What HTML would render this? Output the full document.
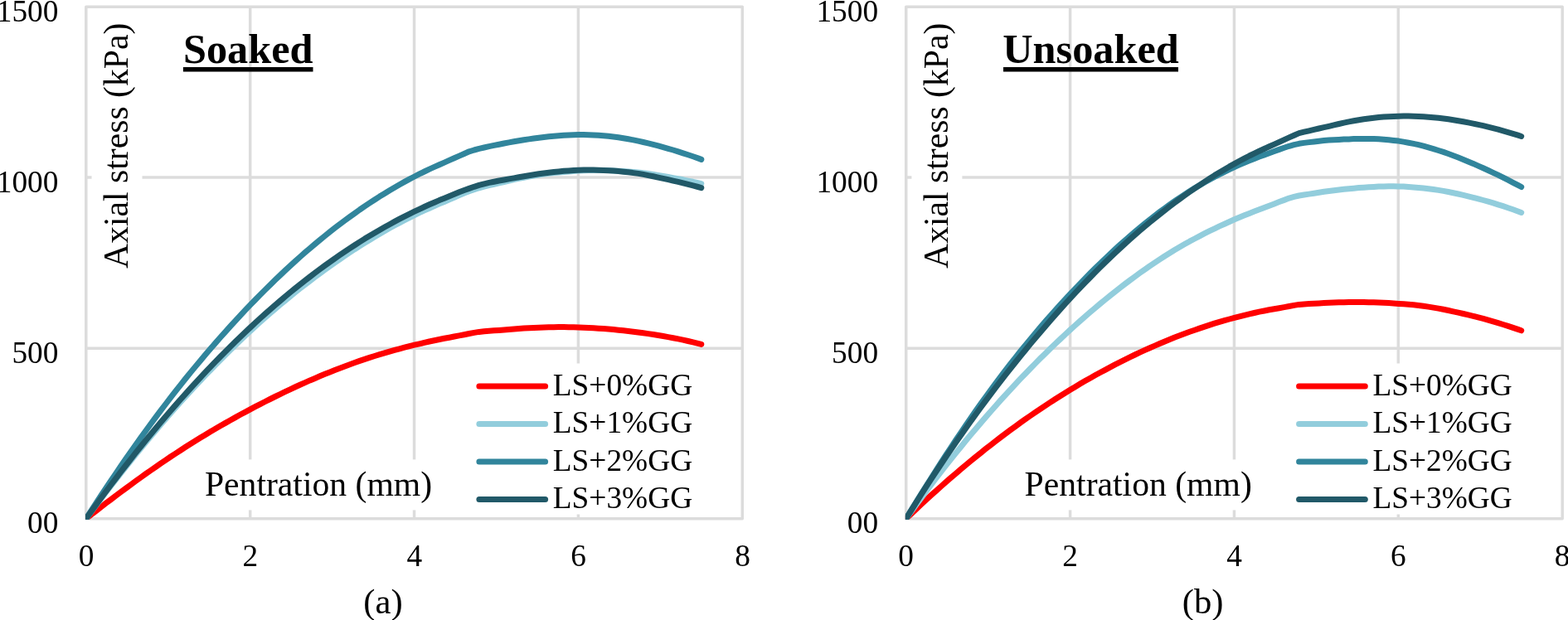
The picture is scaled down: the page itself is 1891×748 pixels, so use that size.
<!DOCTYPE html>
<html lang="en"><head><meta charset="utf-8"><title>Axial stress vs penetration</title>
<style>
html,body{margin:0;padding:0;background:#fff;}
body{width:1891px;height:748px;overflow:hidden;}
svg{display:block;}
text{font-family:"Liberation Serif",serif;fill:#000;}
.t{font-size:37.33px;}
.ax{font-size:41.67px;}
.ttl{font-size:50.3px;font-weight:bold;}
.cap{font-size:42.67px;}
</style></head><body>
<svg width="1891" height="748" viewBox="0 0 1891 748">
<defs>
<clipPath id="cpa"><rect x="103.00" y="0" width="793.10" height="626.70"/></clipPath>
<clipPath id="cpb"><rect x="1091.90" y="0" width="793.10" height="626.70"/></clipPath>
</defs>
<rect x="0" y="0" width="1891" height="748" fill="#fff"/>
<g>
<g stroke="#dcdcdc" stroke-width="3.5" fill="none" stroke-linejoin="round">
<line x1="301.68" y1="8.15" x2="301.68" y2="625.8"/>
<line x1="499.55" y1="8.15" x2="499.55" y2="625.8"/>
<line x1="697.42" y1="8.15" x2="697.42" y2="625.8"/>
<line x1="103.80" y1="214.00" x2="895.30" y2="214.00"/>
<line x1="103.80" y1="420.20" x2="895.30" y2="420.20"/>
<rect x="103.80" y="8.15" width="791.50" height="617.65"/>
</g>
<rect x="110.5" y="20" width="61" height="312" fill="#fff"/>
<rect x="238.0" y="554.4" width="292" height="61" fill="#fff"/>
<rect x="565.0" y="438.5" width="283" height="182" fill="#fff"/>
<g clip-path="url(#cpa)" fill="none" stroke-width="7" stroke-linecap="round" stroke-linejoin="round">
<polyline stroke="#ff0000" points="103.8,625.8 109.8,621.1 115.8,616.4 121.8,611.8 127.8,607.1 133.8,602.6 139.8,598.0 145.8,593.5 151.8,589.1 157.8,584.7 163.8,580.3 169.8,576.0 175.8,571.7 181.8,567.5 187.8,563.3 193.8,559.1 199.8,555.1 205.8,551.0 211.8,547.1 217.8,543.2 223.8,539.3 229.8,535.5 235.8,531.8 241.8,528.1 247.8,524.4 253.8,520.8 259.8,517.3 265.8,513.8 271.8,510.4 277.8,507.0 283.8,503.6 289.8,500.3 295.8,497.1 301.8,493.9 307.8,490.7 313.8,487.6 319.8,484.5 325.8,481.5 331.8,478.5 337.8,475.6 343.8,472.7 349.8,469.8 355.8,467.0 361.8,464.3 367.8,461.6 373.8,458.9 379.8,456.4 385.8,453.8 391.8,451.3 397.8,448.9 403.8,446.5 409.8,444.2 415.8,441.9 421.8,439.7 427.8,437.5 433.8,435.4 439.8,433.4 445.8,431.4 451.8,429.5 457.8,427.7 463.8,425.9 469.8,424.1 475.8,422.4 481.8,420.8 487.8,419.2 493.8,417.7 499.8,416.2 505.8,414.8 511.8,413.4 517.8,412.0 523.8,410.8 529.8,409.5 535.8,408.3 541.8,407.2 547.8,406.0 553.8,404.9 559.8,403.7 565.8,402.5 571.8,401.4 577.8,400.4 583.8,399.8 589.8,399.3 595.8,398.8 601.8,398.4 607.8,397.9 613.8,397.5 619.8,397.0 625.8,396.5 631.8,396.1 637.8,395.7 643.8,395.4 649.8,395.2 655.8,394.9 661.8,394.8 667.8,394.7 673.8,394.6 679.8,394.6 685.8,394.7 691.8,394.8 697.8,394.9 703.8,395.2 709.8,395.4 715.8,395.8 721.8,396.2 727.8,396.6 733.8,397.1 739.8,397.6 745.8,398.2 751.8,398.8 757.8,399.5 763.8,400.2 769.8,401.0 775.8,401.8 781.8,402.6 787.8,403.5 793.8,404.5 799.8,405.5 805.8,406.6 811.8,407.7 817.8,408.9 823.8,410.1 829.8,411.5 835.8,412.9 841.8,414.4 845.8,415.4"/>
<polyline stroke="#92cddc" points="103.8,625.8 109.8,617.7 115.8,609.7 121.8,601.8 127.8,593.9 133.8,586.2 139.8,578.5 145.8,570.9 151.8,563.3 157.8,555.8 163.8,548.3 169.8,541.0 175.8,533.7 181.8,526.5 187.8,519.4 193.8,512.3 199.8,505.4 205.8,498.5 211.8,491.7 217.8,485.0 223.8,478.4 229.8,471.8 235.8,465.4 241.8,459.0 247.8,452.7 253.8,446.5 259.8,440.3 265.8,434.2 271.8,428.2 277.8,422.3 283.8,416.4 289.8,410.7 295.8,405.0 301.8,399.4 307.8,393.9 313.8,388.5 319.8,383.2 325.8,377.9 331.8,372.8 337.8,367.7 343.8,362.7 349.8,357.8 355.8,352.9 361.8,348.1 367.8,343.5 373.8,338.9 379.8,334.3 385.8,329.9 391.8,325.5 397.8,321.2 403.8,316.9 409.8,312.8 415.8,308.7 421.8,304.7 427.8,300.7 433.8,296.9 439.8,293.1 445.8,289.4 451.8,285.8 457.8,282.2 463.8,278.7 469.8,275.3 475.8,272.0 481.8,268.8 487.8,265.7 493.8,262.6 499.8,259.6 505.8,256.7 511.8,253.9 517.8,251.2 523.8,248.5 529.8,245.9 535.8,243.4 541.8,240.8 547.8,238.2 553.8,235.6 559.8,233.1 565.8,230.8 571.8,228.8 577.8,226.8 583.8,225.2 589.8,223.7 595.8,222.3 601.8,220.9 607.8,219.5 613.8,218.1 619.8,216.7 625.8,215.4 631.8,214.2 637.8,213.1 643.8,212.0 649.8,211.0 655.8,210.1 661.8,209.3 667.8,208.6 673.8,207.9 679.8,207.4 685.8,206.9 691.8,206.4 697.8,206.1 703.8,205.8 709.8,205.6 715.8,205.5 721.8,205.5 727.8,205.5 733.8,205.6 739.8,205.9 745.8,206.2 751.8,206.5 757.8,206.9 763.8,207.4 769.8,207.9 775.8,208.7 781.8,209.5 787.8,210.4 793.8,211.5 799.8,212.5 805.8,213.5 811.8,214.6 817.8,215.7 823.8,216.8 829.8,218.1 835.8,219.3 841.8,220.7 845.8,221.6"/>
<polyline stroke="#31859c" points="103.8,625.8 109.8,616.4 115.8,607.2 121.8,598.0 127.8,588.9 133.8,580.0 139.8,571.1 145.8,562.3 151.8,553.6 157.8,545.0 163.8,536.5 169.8,528.0 175.8,519.7 181.8,511.5 187.8,503.4 193.8,495.4 199.8,487.5 205.8,479.7 211.8,471.9 217.8,464.3 223.8,456.8 229.8,449.4 235.8,442.1 241.8,434.9 247.8,427.8 253.8,420.8 259.8,413.9 265.8,407.0 271.8,400.3 277.8,393.6 283.8,387.1 289.8,380.6 295.8,374.2 301.8,367.9 307.8,361.7 313.8,355.6 319.8,349.6 325.8,343.7 331.8,337.8 337.8,332.1 343.8,326.4 349.8,320.9 355.8,315.4 361.8,310.0 367.8,304.7 373.8,299.6 379.8,294.5 385.8,289.5 391.8,284.6 397.8,279.8 403.8,275.1 409.8,270.5 415.8,266.0 421.8,261.6 427.8,257.3 433.8,253.0 439.8,248.9 445.8,244.9 451.8,241.0 457.8,237.1 463.8,233.4 469.8,229.7 475.8,226.2 481.8,222.7 487.8,219.4 493.8,216.1 499.8,213.0 505.8,209.9 511.8,207.0 517.8,204.1 523.8,201.4 529.8,198.7 535.8,196.1 541.8,193.4 547.8,190.8 553.8,188.1 559.8,185.5 565.8,182.8 571.8,181.0 577.8,179.4 583.8,178.0 589.8,176.6 595.8,175.4 601.8,174.2 607.8,173.0 613.8,171.9 619.8,170.8 625.8,169.8 631.8,168.8 637.8,167.9 643.8,167.0 649.8,166.2 655.8,165.5 661.8,164.8 667.8,164.2 673.8,163.7 679.8,163.3 685.8,162.9 691.8,162.7 697.8,162.6 703.8,162.6 709.8,162.7 715.8,162.9 721.8,163.3 727.8,163.7 733.8,164.3 739.8,165.0 745.8,165.8 751.8,166.8 757.8,167.8 763.8,168.9 769.8,170.2 775.8,171.5 781.8,172.9 787.8,174.4 793.8,175.9 799.8,177.6 805.8,179.3 811.8,181.0 817.8,182.9 823.8,184.8 829.8,186.8 835.8,188.8 841.8,190.9 845.8,192.4"/>
<polyline stroke="#215968" points="103.8,625.8 109.8,617.5 115.8,609.2 121.8,601.0 127.8,593.0 133.8,585.0 139.8,577.1 145.8,569.2 151.8,561.5 157.8,553.8 163.8,546.2 169.8,538.7 175.8,531.3 181.8,524.0 187.8,516.8 193.8,509.6 199.8,502.5 205.8,495.5 211.8,488.6 217.8,481.8 223.8,475.1 229.8,468.4 235.8,461.8 241.8,455.3 247.8,448.9 253.8,442.6 259.8,436.4 265.8,430.2 271.8,424.2 277.8,418.2 283.8,412.3 289.8,406.5 295.8,400.7 301.8,395.1 307.8,389.5 313.8,384.0 319.8,378.6 325.8,373.3 331.8,368.1 337.8,363.0 343.8,357.9 349.8,352.9 355.8,348.0 361.8,343.2 367.8,338.5 373.8,333.9 379.8,329.3 385.8,324.8 391.8,320.4 397.8,316.1 403.8,311.8 409.8,307.7 415.8,303.6 421.8,299.6 427.8,295.7 433.8,291.9 439.8,288.1 445.8,284.5 451.8,280.9 457.8,277.4 463.8,274.0 469.8,270.7 475.8,267.4 481.8,264.2 487.8,261.1 493.8,258.1 499.8,255.2 505.8,252.3 511.8,249.5 517.8,246.8 523.8,244.2 529.8,241.6 535.8,239.2 541.8,236.7 547.8,234.3 553.8,231.8 559.8,229.5 565.8,227.4 571.8,225.3 577.8,223.4 583.8,221.8 589.8,220.4 595.8,219.2 601.8,218.0 607.8,217.0 613.8,215.9 619.8,214.9 625.8,213.8 631.8,212.8 637.8,211.7 643.8,210.8 649.8,209.8 655.8,209.0 661.8,208.2 667.8,207.5 673.8,206.9 679.8,206.3 685.8,205.9 691.8,205.5 697.8,205.3 703.8,205.1 709.8,205.1 715.8,205.1 721.8,205.2 727.8,205.4 733.8,205.7 739.8,206.1 745.8,206.6 751.8,207.2 757.8,207.8 763.8,208.6 769.8,209.4 775.8,210.4 781.8,211.6 787.8,212.8 793.8,214.1 799.8,215.4 805.8,216.7 811.8,218.1 817.8,219.4 823.8,220.9 829.8,222.4 835.8,223.9 841.8,225.5 845.8,226.6"/>
</g>
<text class="t" x="70.4" y="25.8" text-anchor="end">1500</text>
<text class="t" x="70.4" y="231.7" text-anchor="end">1000</text>
<text class="t" x="70.4" y="437.6" text-anchor="end">500</text>
<text class="t" x="70.4" y="642.7" text-anchor="end">00</text>
<text class="t" x="104.0" y="683.2" text-anchor="middle">0</text>
<text class="t" x="301.9" y="683.2" text-anchor="middle">2</text>
<text class="t" x="499.8" y="683.2" text-anchor="middle">4</text>
<text class="t" x="697.6" y="683.2" text-anchor="middle">6</text>
<text class="t" x="895.5" y="683.2" text-anchor="middle">8</text>
<text class="ax" transform="translate(154.2,175.8) rotate(-90)" text-anchor="middle">Axial stress (kPa)</text>
<text class="ax" x="384.0" y="598.4" text-anchor="middle">Pentration (mm)</text>
<text class="ttl" x="299.2" y="76.0" text-anchor="middle">Soaked</text>
<rect x="220.9" y="81" width="156.6" height="5.5" fill="#000"/>
<line x1="577.9" y1="465.9" x2="657.6" y2="465.9" stroke="#ff0000" stroke-width="7" stroke-linecap="round"/>
<text class="t" x="666.8" y="476.9">LS+0%GG</text>
<line x1="577.9" y1="511.4" x2="657.6" y2="511.4" stroke="#92cddc" stroke-width="7" stroke-linecap="round"/>
<text class="t" x="666.8" y="522.4">LS+1%GG</text>
<line x1="577.9" y1="556.9" x2="657.6" y2="556.9" stroke="#31859c" stroke-width="7" stroke-linecap="round"/>
<text class="t" x="666.8" y="567.9">LS+2%GG</text>
<line x1="577.9" y1="602.4" x2="657.6" y2="602.4" stroke="#215968" stroke-width="7" stroke-linecap="round"/>
<text class="t" x="666.8" y="613.4">LS+3%GG</text>
<text class="cap" x="462.0" y="740.0" text-anchor="middle">(a)</text>
</g>
<g>
<g stroke="#dcdcdc" stroke-width="3.5" fill="none" stroke-linejoin="round">
<line x1="1290.58" y1="8.15" x2="1290.58" y2="625.8"/>
<line x1="1488.45" y1="8.15" x2="1488.45" y2="625.8"/>
<line x1="1686.33" y1="8.15" x2="1686.33" y2="625.8"/>
<line x1="1092.70" y1="214.00" x2="1884.20" y2="214.00"/>
<line x1="1092.70" y1="420.20" x2="1884.20" y2="420.20"/>
<rect x="1092.70" y="8.15" width="791.50" height="617.65"/>
</g>
<rect x="1099.4" y="20" width="61" height="312" fill="#fff"/>
<rect x="1226.9" y="554.4" width="292" height="61" fill="#fff"/>
<rect x="1553.9" y="438.5" width="283" height="182" fill="#fff"/>
<g clip-path="url(#cpb)" fill="none" stroke-width="7" stroke-linecap="round" stroke-linejoin="round">
<polyline stroke="#ff0000" points="1092.7,625.8 1098.7,620.1 1104.7,614.4 1110.7,608.8 1116.7,603.2 1122.7,597.7 1128.7,592.3 1134.7,587.0 1140.7,581.7 1146.7,576.4 1152.7,571.3 1158.7,566.1 1164.7,561.1 1170.7,556.1 1176.7,551.2 1182.7,546.4 1188.7,541.6 1194.7,536.9 1200.7,532.2 1206.7,527.6 1212.7,523.1 1218.7,518.6 1224.7,514.3 1230.7,509.9 1236.7,505.7 1242.7,501.5 1248.7,497.4 1254.7,493.3 1260.7,489.3 1266.7,485.4 1272.7,481.5 1278.7,477.7 1284.7,474.0 1290.7,470.3 1296.7,466.7 1302.7,463.1 1308.7,459.6 1314.7,456.2 1320.7,452.8 1326.7,449.5 1332.7,446.3 1338.7,443.1 1344.7,439.9 1350.7,436.9 1356.7,433.9 1362.7,430.9 1368.7,428.0 1374.7,425.2 1380.7,422.4 1386.7,419.7 1392.7,417.1 1398.7,414.5 1404.7,412.0 1410.7,409.6 1416.7,407.1 1422.7,404.8 1428.7,402.5 1434.7,400.3 1440.7,398.2 1446.7,396.1 1452.7,394.1 1458.7,392.1 1464.7,390.2 1470.7,388.4 1476.7,386.7 1482.7,385.0 1488.7,383.4 1494.7,381.8 1500.7,380.3 1506.7,378.9 1512.7,377.5 1518.7,376.2 1524.7,375.0 1530.7,373.8 1536.7,372.7 1542.7,371.7 1548.7,370.6 1554.7,369.5 1560.7,368.4 1566.7,367.4 1572.7,366.9 1578.7,366.6 1584.7,366.2 1590.7,365.9 1596.7,365.6 1602.7,365.3 1608.7,365.0 1614.7,364.8 1620.7,364.7 1626.7,364.6 1632.7,364.5 1638.7,364.5 1644.7,364.6 1650.7,364.7 1656.7,364.8 1662.7,365.0 1668.7,365.3 1674.7,365.6 1680.7,365.9 1686.7,366.4 1692.7,366.8 1698.7,367.2 1704.7,367.7 1710.7,368.4 1716.7,369.2 1722.7,370.1 1728.7,371.1 1734.7,372.1 1740.7,373.3 1746.7,374.5 1752.7,375.8 1758.7,377.1 1764.7,378.5 1770.7,379.9 1776.7,381.3 1782.7,382.9 1788.7,384.4 1794.7,386.1 1800.7,387.8 1806.7,389.6 1812.7,391.5 1818.7,393.4 1824.7,395.4 1830.7,397.4 1834.7,398.8"/>
<polyline stroke="#92cddc" points="1092.7,625.8 1098.7,617.5 1104.7,609.2 1110.7,601.1 1116.7,593.1 1122.7,585.1 1128.7,577.2 1134.7,569.4 1140.7,561.7 1146.7,554.1 1152.7,546.6 1158.7,539.2 1164.7,531.8 1170.7,524.6 1176.7,517.4 1182.7,510.4 1188.7,503.4 1194.7,496.5 1200.7,489.7 1206.7,482.9 1212.7,476.3 1218.7,469.8 1224.7,463.3 1230.7,456.9 1236.7,450.7 1242.7,444.5 1248.7,438.4 1254.7,432.3 1260.7,426.4 1266.7,420.5 1272.7,414.8 1278.7,409.1 1284.7,403.5 1290.7,397.9 1296.7,392.5 1302.7,387.1 1308.7,381.9 1314.7,376.7 1320.7,371.6 1326.7,366.5 1332.7,361.6 1338.7,356.7 1344.7,351.9 1350.7,347.2 1356.7,342.6 1362.7,338.1 1368.7,333.7 1374.7,329.3 1380.7,325.1 1386.7,320.9 1392.7,316.9 1398.7,312.9 1404.7,309.0 1410.7,305.3 1416.7,301.6 1422.7,298.1 1428.7,294.6 1434.7,291.2 1440.7,288.0 1446.7,284.8 1452.7,281.7 1458.7,278.7 1464.7,275.8 1470.7,272.9 1476.7,270.2 1482.7,267.5 1488.7,264.8 1494.7,262.3 1500.7,259.8 1506.7,257.4 1512.7,255.1 1518.7,252.8 1524.7,250.5 1530.7,248.2 1536.7,245.9 1542.7,243.6 1548.7,241.4 1554.7,239.1 1560.7,237.4 1566.7,236.0 1572.7,235.0 1578.7,234.1 1584.7,233.2 1590.7,232.3 1596.7,231.3 1602.7,230.5 1608.7,229.7 1614.7,229.0 1620.7,228.3 1626.7,227.7 1632.7,227.2 1638.7,226.6 1644.7,226.2 1650.7,225.8 1656.7,225.4 1662.7,225.1 1668.7,224.9 1674.7,224.8 1680.7,224.8 1686.7,224.9 1692.7,225.1 1698.7,225.5 1704.7,225.9 1710.7,226.4 1716.7,227.0 1722.7,227.7 1728.7,228.5 1734.7,229.4 1740.7,230.4 1746.7,231.5 1752.7,232.7 1758.7,234.0 1764.7,235.3 1770.7,236.8 1776.7,238.3 1782.7,239.8 1788.7,241.5 1794.7,243.2 1800.7,244.9 1806.7,246.8 1812.7,248.7 1818.7,250.7 1824.7,252.8 1830.7,255.0 1834.7,256.5"/>
<polyline stroke="#31859c" points="1092.7,625.8 1098.7,615.9 1104.7,606.1 1110.7,596.4 1116.7,586.8 1122.7,577.3 1128.7,567.8 1134.7,558.5 1140.7,549.2 1146.7,540.1 1152.7,531.0 1158.7,522.1 1164.7,513.2 1170.7,504.5 1176.7,495.8 1182.7,487.3 1188.7,479.0 1194.7,470.7 1200.7,462.6 1206.7,454.5 1212.7,446.7 1218.7,438.9 1224.7,431.3 1230.7,423.8 1236.7,416.4 1242.7,409.1 1248.7,401.9 1254.7,394.9 1260.7,387.9 1266.7,381.1 1272.7,374.3 1278.7,367.7 1284.7,361.1 1290.7,354.7 1296.7,348.3 1302.7,342.1 1308.7,335.9 1314.7,329.8 1320.7,323.8 1326.7,318.0 1332.7,312.2 1338.7,306.5 1344.7,300.9 1350.7,295.4 1356.7,290.1 1362.7,284.8 1368.7,279.7 1374.7,274.6 1380.7,269.7 1386.7,264.9 1392.7,260.2 1398.7,255.6 1404.7,251.2 1410.7,246.9 1416.7,242.7 1422.7,238.6 1428.7,234.7 1434.7,230.8 1440.7,227.1 1446.7,223.5 1452.7,220.0 1458.7,216.7 1464.7,213.4 1470.7,210.3 1476.7,207.3 1482.7,204.3 1488.7,201.5 1494.7,198.9 1500.7,196.3 1506.7,193.8 1512.7,191.4 1518.7,189.1 1524.7,186.9 1530.7,184.7 1536.7,182.5 1542.7,180.4 1548.7,178.3 1554.7,176.3 1560.7,174.6 1566.7,173.3 1572.7,172.4 1578.7,171.6 1584.7,170.9 1590.7,170.2 1596.7,169.6 1602.7,169.1 1608.7,168.7 1614.7,168.4 1620.7,168.1 1626.7,167.9 1632.7,167.6 1638.7,167.4 1644.7,167.4 1650.7,167.4 1656.7,167.5 1662.7,167.8 1668.7,168.2 1674.7,168.7 1680.7,169.4 1686.7,170.1 1692.7,171.1 1698.7,172.2 1704.7,173.4 1710.7,174.7 1716.7,176.2 1722.7,177.9 1728.7,179.6 1734.7,181.5 1740.7,183.4 1746.7,185.5 1752.7,187.7 1758.7,190.0 1764.7,192.4 1770.7,194.9 1776.7,197.4 1782.7,200.1 1788.7,202.8 1794.7,205.5 1800.7,208.3 1806.7,211.2 1812.7,214.2 1818.7,217.2 1824.7,220.3 1830.7,223.4 1834.7,225.5"/>
<polyline stroke="#215968" points="1092.7,625.8 1098.7,616.1 1104.7,606.5 1110.7,597.0 1116.7,587.6 1122.7,578.4 1128.7,569.3 1134.7,560.2 1140.7,551.3 1146.7,542.5 1152.7,533.8 1158.7,525.2 1164.7,516.7 1170.7,508.3 1176.7,500.0 1182.7,491.8 1188.7,483.7 1194.7,475.7 1200.7,467.7 1206.7,459.9 1212.7,452.2 1218.7,444.6 1224.7,437.0 1230.7,429.6 1236.7,422.2 1242.7,414.9 1248.7,407.8 1254.7,400.7 1260.7,393.7 1266.7,386.7 1272.7,379.9 1278.7,373.2 1284.7,366.5 1290.7,360.0 1296.7,353.5 1302.7,347.2 1308.7,340.9 1314.7,334.7 1320.7,328.6 1326.7,322.6 1332.7,316.7 1338.7,310.9 1344.7,305.2 1350.7,299.6 1356.7,294.1 1362.7,288.7 1368.7,283.4 1374.7,278.2 1380.7,273.1 1386.7,268.1 1392.7,263.2 1398.7,258.4 1404.7,253.7 1410.7,249.0 1416.7,244.5 1422.7,240.1 1428.7,235.7 1434.7,231.5 1440.7,227.3 1446.7,223.3 1452.7,219.3 1458.7,215.4 1464.7,211.6 1470.7,208.0 1476.7,204.4 1482.7,200.9 1488.7,197.6 1494.7,194.3 1500.7,191.1 1506.7,188.0 1512.7,185.1 1518.7,182.2 1524.7,179.5 1530.7,176.8 1536.7,174.1 1542.7,171.3 1548.7,168.6 1554.7,165.9 1560.7,163.2 1566.7,160.6 1572.7,159.2 1578.7,157.8 1584.7,156.4 1590.7,155.0 1596.7,153.7 1602.7,152.3 1608.7,150.9 1614.7,149.5 1620.7,148.1 1626.7,146.9 1632.7,145.8 1638.7,144.7 1644.7,143.8 1650.7,143.0 1656.7,142.3 1662.7,141.6 1668.7,141.1 1674.7,140.7 1680.7,140.4 1686.7,140.2 1692.7,140.1 1698.7,140.1 1704.7,140.2 1710.7,140.4 1716.7,140.8 1722.7,141.2 1728.7,141.7 1734.7,142.3 1740.7,143.0 1746.7,143.8 1752.7,144.7 1758.7,145.7 1764.7,146.7 1770.7,147.9 1776.7,149.1 1782.7,150.4 1788.7,151.7 1794.7,153.2 1800.7,154.7 1806.7,156.2 1812.7,157.9 1818.7,159.6 1824.7,161.4 1830.7,163.2 1834.7,164.5"/>
</g>
<text class="t" x="1059.1" y="25.8" text-anchor="end">1500</text>
<text class="t" x="1059.1" y="231.7" text-anchor="end">1000</text>
<text class="t" x="1059.1" y="437.6" text-anchor="end">500</text>
<text class="t" x="1059.1" y="642.7" text-anchor="end">00</text>
<text class="t" x="1092.7" y="683.2" text-anchor="middle">0</text>
<text class="t" x="1290.6" y="683.2" text-anchor="middle">2</text>
<text class="t" x="1488.5" y="683.2" text-anchor="middle">4</text>
<text class="t" x="1686.3" y="683.2" text-anchor="middle">6</text>
<text class="t" x="1884.2" y="683.2" text-anchor="middle">8</text>
<text class="ax" transform="translate(1142.9,175.8) rotate(-90)" text-anchor="middle">Axial stress (kPa)</text>
<text class="ax" x="1372.7" y="598.4" text-anchor="middle">Pentration (mm)</text>
<text class="ttl" x="1315.5" y="76.0" text-anchor="middle">Unsoaked</text>
<rect x="1210.0" y="81" width="211.0" height="5.5" fill="#000"/>
<line x1="1566.6" y1="465.9" x2="1646.3" y2="465.9" stroke="#ff0000" stroke-width="7" stroke-linecap="round"/>
<text class="t" x="1655.5" y="476.9">LS+0%GG</text>
<line x1="1566.6" y1="511.4" x2="1646.3" y2="511.4" stroke="#92cddc" stroke-width="7" stroke-linecap="round"/>
<text class="t" x="1655.5" y="522.4">LS+1%GG</text>
<line x1="1566.6" y1="556.9" x2="1646.3" y2="556.9" stroke="#31859c" stroke-width="7" stroke-linecap="round"/>
<text class="t" x="1655.5" y="567.9">LS+2%GG</text>
<line x1="1566.6" y1="602.4" x2="1646.3" y2="602.4" stroke="#215968" stroke-width="7" stroke-linecap="round"/>
<text class="t" x="1655.5" y="613.4">LS+3%GG</text>
<text class="cap" x="1450.7" y="740.0" text-anchor="middle">(b)</text>
</g>
</svg>
</body></html>
